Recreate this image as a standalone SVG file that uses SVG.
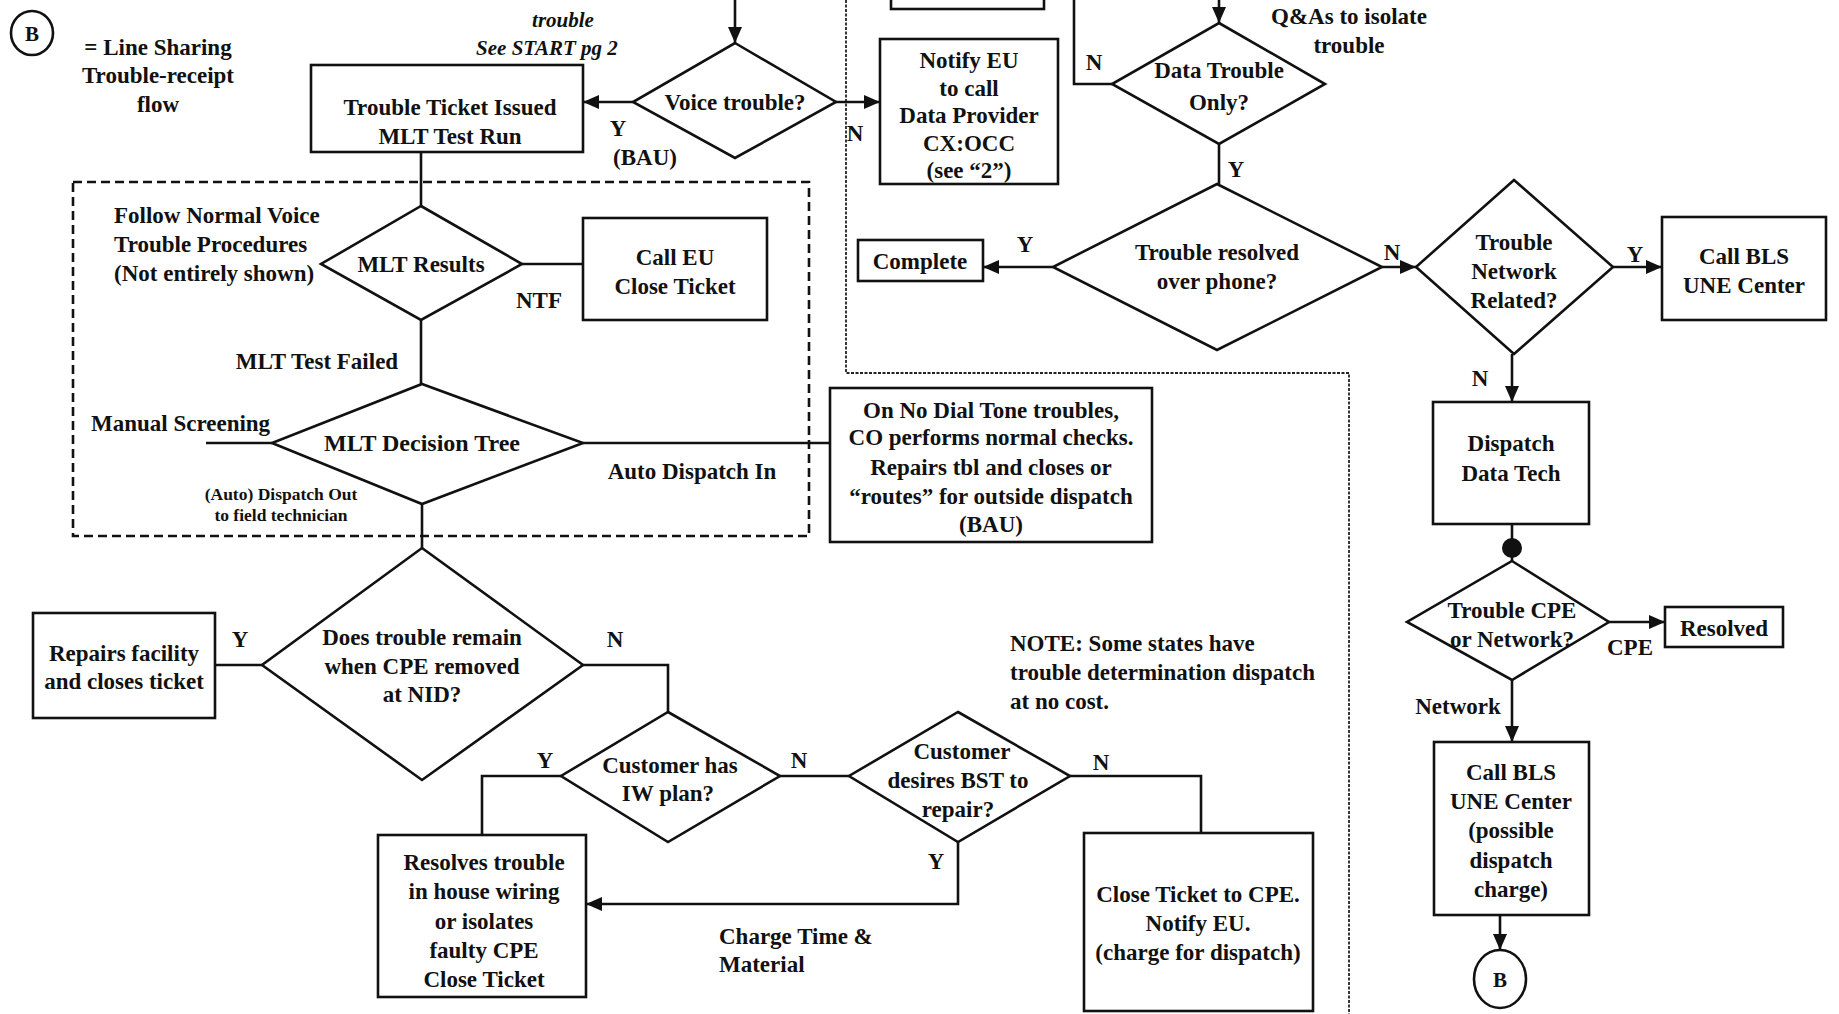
<svg xmlns="http://www.w3.org/2000/svg" width="1839" height="1014" viewBox="0 0 1839 1014">
<style>
.t{font-family:"Liberation Serif","Times New Roman",serif;font-size:23px;font-weight:bold;fill:#111;text-anchor:middle}
.l{text-anchor:start}
.s{font-size:17.5px}
.i{font-style:italic;font-size:21px}
.box{fill:#fff;stroke:#111;stroke-width:2.6}
.dia{fill:#fff;stroke:#111;stroke-width:2.6;stroke-linejoin:miter}
.c{fill:none;stroke:#111;stroke-width:2.6}
.ca{fill:none;stroke:#111;stroke-width:2.6;marker-end:url(#arr)}
.dash{fill:none;stroke:#111;stroke-width:2.6;stroke-dasharray:9 5}
.lane{fill:none;stroke:#222;stroke-width:1.8;stroke-dasharray:3 1.5}
</style>
<defs>
<marker id="arr" viewBox="0 0 16 14" refX="16" refY="7" markerWidth="16" markerHeight="14" markerUnits="userSpaceOnUse" orient="auto">
<path d="M0,0 L16,7 L0,14 z" fill="#111"/>
</marker>
</defs>
<rect width="1839" height="1014" fill="#fff"/>

<g id="lanes">
<path class="lane" d="M846,0 V373 H1349 V1014"/>
<rect class="dash" x="73" y="182" width="736" height="354"/>
</g>

<g id="connectors">
<path class="ca" d="M735,0 V43"/>
<path class="ca" d="M633,102 H583"/>
<path class="ca" d="M836,102 H880"/>
<path class="c" d="M421,152 V206"/>
<path class="c" d="M522,264 H583"/>
<path class="c" d="M421,320 V384"/>
<path class="c" d="M272,443 H206"/>
<path class="c" d="M583,443 H830"/>
<path class="c" d="M422,504 V548"/>
<path class="c" d="M262,665 H215"/>
<path class="c" d="M583,665 H668 V712"/>
<path class="c" d="M561,776 H482 V835"/>
<path class="c" d="M780,776 H849"/>
<path class="c" d="M1070,776 H1201 V833"/>
<path class="ca" d="M958,842 V904 H586"/>
<path class="c" d="M1074,0 V84 H1112"/>
<path class="ca" d="M1219,0 V23"/>
<path class="c" d="M1219,144 V184"/>
<path class="ca" d="M1053,267 H983"/>
<path class="ca" d="M1382,267 H1416"/>
<path class="ca" d="M1613,267 H1662"/>
<path class="ca" d="M1512,354 V402"/>
<path class="c" d="M1512,524 V561"/>
<circle cx="1512" cy="548" r="10" fill="#111"/>
<path class="ca" d="M1609,622 H1665"/>
<path class="ca" d="M1512,680 V742"/>
<path class="ca" d="M1500,915 V950"/>
</g>

<g id="labels">
<text class="t" x="618" y="136">Y</text>
<text class="t" x="645" y="165">(BAU)</text>
<text class="t" x="855" y="141">N</text>
<text class="t" x="539" y="308">NTF</text>
<text class="t" x="317" y="369">MLT Test Failed</text>
<text class="t l" x="91" y="431">Manual Screening</text>
<text class="t" x="692" y="479">Auto Dispatch In</text>
<text class="t s" x="281" y="500">(Auto) Dispatch Out</text>
<text class="t s" x="281" y="521">to field technician</text>
<text class="t" x="240" y="647">Y</text>
<text class="t" x="615" y="647">N</text>
<text class="t" x="545" y="768">Y</text>
<text class="t" x="799" y="768">N</text>
<text class="t" x="1101" y="770">N</text>
<text class="t" x="936" y="869">Y</text>
<text class="t l" x="719" y="944">Charge Time &amp;</text>
<text class="t l" x="719" y="972">Material</text>
<text class="t" x="1094" y="70">N</text>
<text class="t" x="1236" y="177">Y</text>
<text class="t" x="1025" y="252">Y</text>
<text class="t" x="1392" y="260">N</text>
<text class="t" x="1635" y="262">Y</text>
<text class="t" x="1480" y="386">N</text>
<text class="t" x="1630" y="655">CPE</text>
<text class="t" x="1458" y="714">Network</text>
</g>

<g id="legend">
<ellipse cx="32" cy="33" rx="21" ry="22" fill="#fff" stroke="#111" stroke-width="2.6"/>
<text class="t" x="32" y="41" style="font-size:21px">B</text>
<text class="t" x="158" y="55">= Line Sharing</text>
<text class="t" x="158" y="83">Trouble-receipt</text>
<text class="t" x="158" y="112">flow</text>
</g>

<g id="start-note">
<text class="t i" x="563" y="27">trouble</text>
<text class="t i" x="547" y="55">See START pg 2</text>
</g>

<g id="qa-note">
<text class="t" x="1349" y="24">Q&amp;As to isolate</text>
<text class="t" x="1349" y="53">trouble</text>
</g>

<g id="voice-note">
<text class="t l" x="114" y="223">Follow Normal Voice</text>
<text class="t l" x="114" y="252">Trouble Procedures</text>
<text class="t l" x="114" y="281">(Not entirely shown)</text>
</g>

<g id="cost-note">
<text class="t l" x="1010" y="651">NOTE: Some states have</text>
<text class="t l" x="1010" y="680">trouble determination dispatch</text>
<text class="t l" x="1010" y="709">at no cost.</text>
</g>

<g id="top-box">
<rect class="box" x="891" y="-40" width="153" height="49"/>
</g>

<g id="voice-trouble">
<polygon class="dia" points="735,43 836,102 735,158 633,102"/>
<text class="t" x="735" y="110">Voice trouble?</text>
</g>

<g id="ticket-issued">
<rect class="box" x="311" y="65" width="272" height="87"/>
<text class="t" x="450" y="115">Trouble Ticket Issued</text>
<text class="t" x="450" y="144">MLT Test Run</text>
</g>

<g id="notify-eu">
<rect class="box" x="880" y="39" width="178" height="145"/>
<text class="t" x="969" y="68">Notify EU</text>
<text class="t" x="969" y="96">to call</text>
<text class="t" x="969" y="123">Data Provider</text>
<text class="t" x="969" y="151">CX:OCC</text>
<text class="t" x="969" y="178">(see “2”)</text>
</g>

<g id="mlt-results">
<polygon class="dia" points="421,206 522,264 421,320 321,264"/>
<text class="t" x="421" y="272">MLT Results</text>
</g>

<g id="call-eu">
<rect class="box" x="583" y="218" width="184" height="102"/>
<text class="t" x="675" y="265">Call EU</text>
<text class="t" x="675" y="294">Close Ticket</text>
</g>

<g id="mlt-decision">
<polygon class="dia" points="422,384 583,443 422,504 272,443"/>
<text class="t" x="422" y="451" style="font-size:24px">MLT Decision Tree</text>
</g>

<g id="no-dial-tone">
<rect class="box" x="830" y="388" width="322" height="154"/>
<text class="t" x="991" y="418">On No Dial Tone troubles,</text>
<text class="t" x="991" y="445">CO performs normal checks.</text>
<text class="t" x="991" y="475">Repairs tbl and closes  or</text>
<text class="t" x="991" y="504">“routes” for outside dispatch</text>
<text class="t" x="991" y="532">(BAU)</text>
</g>

<g id="does-trouble-remain">
<polygon class="dia" points="422,548 583,665 422,780 262,665"/>
<text class="t" x="422" y="645">Does trouble remain</text>
<text class="t" x="422" y="674">when CPE removed</text>
<text class="t" x="422" y="702">at NID?</text>
</g>

<g id="repairs-facility">
<rect class="box" x="33" y="613" width="182" height="105"/>
<text class="t" x="124" y="661">Repairs facility</text>
<text class="t" x="124" y="689">and closes ticket</text>
</g>

<g id="iw-plan">
<polygon class="dia" points="668,712 780,776 668,842 561,776"/>
<text class="t" x="670" y="773">Customer has</text>
<text class="t" x="668" y="801">IW plan?</text>
</g>

<g id="desires-bst">
<polygon class="dia" points="958,712 1070,776 958,842 849,776"/>
<text class="t" x="962" y="759">Customer</text>
<text class="t" x="958" y="788">desires BST to</text>
<text class="t" x="958" y="817">repair?</text>
</g>

<g id="resolves-trouble">
<rect class="box" x="378" y="835" width="208" height="162"/>
<text class="t" x="484" y="870">Resolves trouble</text>
<text class="t" x="484" y="899">in house wiring</text>
<text class="t" x="484" y="929">or isolates</text>
<text class="t" x="484" y="958">faulty CPE</text>
<text class="t" x="484" y="987">Close Ticket</text>
</g>

<g id="close-ticket-cpe">
<rect class="box" x="1084" y="833" width="229" height="178"/>
<text class="t" x="1198" y="902">Close Ticket to CPE.</text>
<text class="t" x="1198" y="931">Notify EU.</text>
<text class="t" x="1198" y="960">(charge for dispatch)</text>
</g>

<g id="data-trouble-only">
<polygon class="dia" points="1219,23 1325,84 1219,144 1112,84"/>
<text class="t" x="1219" y="78">Data Trouble</text>
<text class="t" x="1219" y="110">Only?</text>
</g>

<g id="resolved-over-phone">
<polygon class="dia" points="1217,184 1382,267 1217,350 1053,267"/>
<text class="t" x="1217" y="260">Trouble resolved</text>
<text class="t" x="1217" y="289">over phone?</text>
</g>

<g id="complete">
<rect class="box" x="858" y="240" width="125" height="41"/>
<text class="t" x="920" y="269">Complete</text>
</g>

<g id="network-related">
<polygon class="dia" points="1514,180 1613,267 1514,354 1416,267"/>
<text class="t" x="1514" y="250">Trouble</text>
<text class="t" x="1514" y="279">Network</text>
<text class="t" x="1514" y="308">Related?</text>
</g>

<g id="call-bls-1">
<rect class="box" x="1662" y="217" width="164" height="103"/>
<text class="t" x="1744" y="264">Call BLS</text>
<text class="t" x="1744" y="293">UNE Center</text>
</g>

<g id="dispatch-data-tech">
<rect class="box" x="1433" y="402" width="156" height="122"/>
<text class="t" x="1511" y="451">Dispatch</text>
<text class="t" x="1511" y="481">Data Tech</text>
</g>

<g id="cpe-or-network">
<polygon class="dia" points="1512,561 1609,622 1512,680 1407,622"/>
<text class="t" x="1512" y="618">Trouble CPE</text>
<text class="t" x="1512" y="647">or Network?</text>
</g>

<g id="resolved">
<rect class="box" x="1665" y="607" width="118" height="40"/>
<text class="t" x="1724" y="636">Resolved</text>
</g>

<g id="call-bls-2">
<rect class="box" x="1434" y="742" width="155" height="173"/>
<text class="t" x="1511" y="780">Call BLS</text>
<text class="t" x="1511" y="809">UNE Center</text>
<text class="t" x="1511" y="838">(possible</text>
<text class="t" x="1511" y="868">dispatch</text>
<text class="t" x="1511" y="897">charge)</text>
</g>

<g id="b-connector">
<ellipse cx="1500" cy="979" rx="26" ry="29" fill="#fff" stroke="#111" stroke-width="2.6"/>
<text class="t" x="1500" y="987" style="font-size:21px">B</text>
</g>
</svg>
